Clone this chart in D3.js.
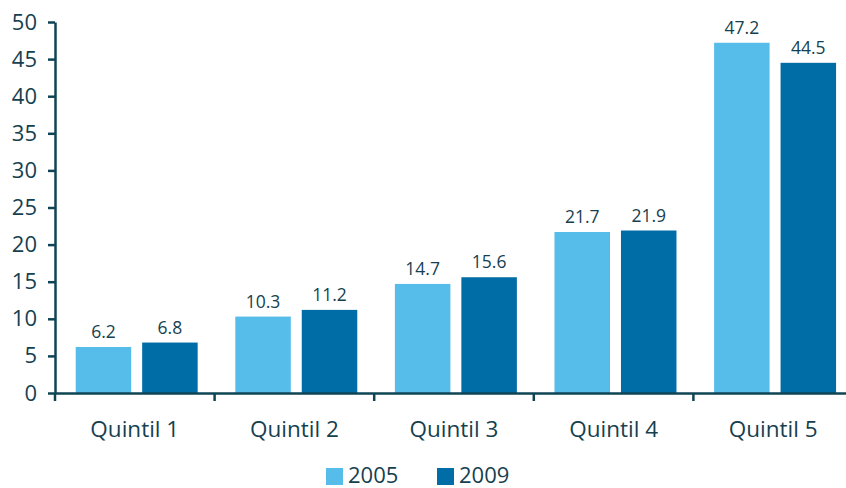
<!DOCTYPE html>
<html><head><meta charset="utf-8">
<script src="https://cdn.jsdelivr.net/npm/d3@7"></script>
<style>body{margin:0;background:#fff;}svg{display:block;font-family:"Open Sans",sans-serif;}</style>
</head><body>
<svg id="c" width="846" height="488"></svg>
<script>
const categories = ["Quintil 1","Quintil 2","Quintil 3","Quintil 4","Quintil 5"];
const seriesNames = ["2005","2009"];
const values2005 = [6.2,10.3,14.7,21.7,47.2];
const values2009 = [6.8,11.2,15.6,21.9,44.5];
const yTicks = [0,5,10,15,20,25,30,35,40,45,50];
const colors = ["#56BDEB","#006DA6"];
const textColor = "#163F50";
const axisColor = "#0E4555";

const svg = d3.select("#c");
const x0 = 55, x1 = 853, yBottom = 393, yTop = 22;
const x = d3.scaleBand().domain(categories).range([x0,x1]).paddingInner(0).paddingOuter(0);
const xs = d3.scaleBand().domain(seriesNames).range([0,x.bandwidth()]).paddingInner(0.165).paddingOuter(0.283).align(0.55);
const y = d3.scaleLinear().domain([0,50]).range([yBottom,yTop]);
const series = [values2005, values2009];

const g = svg.append("g");
categories.forEach((c,i)=>{
  seriesNames.forEach((s,j)=>{
    const v = series[j][i];
    g.append("rect").attr("x",x(c)+xs(s)).attr("width",xs.bandwidth())
      .attr("y",y(v)).attr("height",y(0)-y(v)).attr("fill",colors[j]);
    g.append("text").attr("x",x(c)+xs(s)+xs.bandwidth()/2).attr("y",y(v)-9)
      .attr("text-anchor","middle").attr("font-size",17.5).attr("fill",textColor).text(v.toFixed(1));
  });
});

// y axis
const ya = svg.append("g").attr("transform",`translate(${x0},0)`)
  .call(d3.axisLeft(y).tickValues(yTicks).tickSize(7).tickPadding(11).tickSizeOuter(0));
ya.select(".domain").attr("stroke",axisColor).attr("stroke-width",2.5);
ya.selectAll(".tick line").attr("stroke",axisColor).attr("stroke-width",2.5);
ya.selectAll(".tick text").attr("font-size",22).attr("fill",textColor).attr("font-family","Open Sans, sans-serif");

// x axis
const xa = svg.append("g").attr("transform",`translate(0,${yBottom})`)
  .call(d3.axisBottom(x).tickSize(0).tickPadding(0).tickSizeOuter(0));
xa.select(".domain").attr("stroke",axisColor).attr("stroke-width",2.5);
xa.selectAll(".tick text").attr("font-size",22.5).attr("fill",textColor).attr("font-family","Open Sans, sans-serif")
  .attr("dy",null).attr("y",44);
// category boundary ticks
const bounds = categories.map(c=>x(c)).concat([x1]);
svg.append("g").selectAll("line").data(bounds).join("line")
  .attr("x1",d=>d).attr("x2",d=>d).attr("y1",yBottom).attr("y2",yBottom+8)
  .attr("stroke",axisColor).attr("stroke-width",2.5);

// legend
const leg = svg.append("g");
const legX = [326,437];
seriesNames.forEach((s,j)=>{
  leg.append("rect").attr("x",legX[j]).attr("y",468).attr("width",17).attr("height",17).attr("fill",colors[j]);
  leg.append("text").attr("x",legX[j]+22).attr("y",483).attr("font-size",22).attr("fill",textColor).text(s);
});
</script>
</body></html>
